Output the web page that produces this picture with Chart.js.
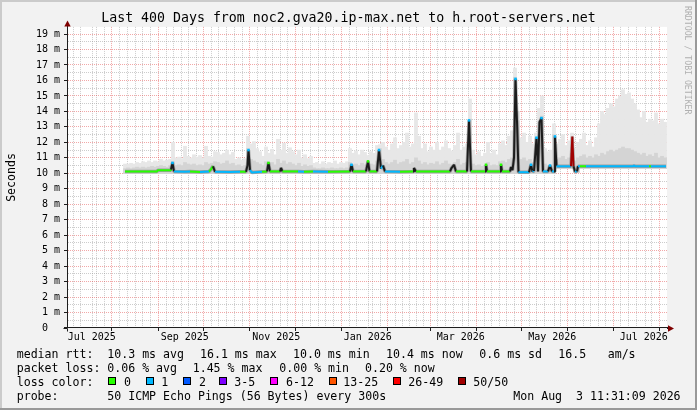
<!DOCTYPE html>
<html><head><meta charset="utf-8">
<script src="https://cdn.jsdelivr.net/npm/chart.js@4.4.1/dist/chart.umd.min.js"></script>
<style>html,body{margin:0;padding:0;background:#f2f2f2;overflow:hidden}canvas{display:block}</style>
</head><body>
<canvas id="c" width="697" height="410"></canvas>
<script>
// ---------------- data ----------------
const TITLE = 'Last 400 Days from noc2.gva20.ip-max.net to h.root-servers.net';
const WINDOW_START = Date.UTC(2025, 5, 29, 11, 31, 9);
const WINDOW_DAYS = 400;
const Y_MAX = 19.46;
const Y_UNIT = 'm';

const monthStarts = ['2025-07-01','2025-08-01','2025-09-01','2025-10-01','2025-11-01','2025-12-01',
  '2026-01-01','2026-02-01','2026-03-01','2026-04-01','2026-05-01','2026-06-01','2026-07-01','2026-08-01'];
const monthLabels = ['Jul 2025','Sep 2025','Nov 2025','Jan 2026','Mar 2026','May 2026','Jul 2026'];
const monthLabelDates = ['2025-07-16','2025-09-16','2025-11-16','2026-01-16','2026-03-19','2026-05-19','2026-07-19'];

// median rtt (ms) — day offset from window start, value, loss class
const medianDays = [38.67,48.67,60,60.67,68.67,69.33,70.33,71.33,78.67,82,88.67,94.67,96,97.33,98.67,108.67,115.33,119.33,120.33,121,122,123.33,130,133.33,134.33,135.33,142,142.67,143.67,154,158,164,174,188.67,189.67,190.67,199.33,200.67,201.67,206.67,208,209.33,210.67,212,222,230.67,231.33,232.67,255.33,256.33,258,259.33,266.67,268,269.33,278.67,279.33,280,288.67,289.33,290,295.33,296,297,298,299,300,301,308,309.33,310.33,311.33,313,314,315,316.33,317.33,320.67,322,323.33,324.67,325.33,326.33,336,336.87,337.67,338.67,340,340.67,342,345.33,346,377.33,378,378.67,388,389.33,399.33];
const medianValues = [10.12,10.12,10.12,10.2,10.2,10.25,10.67,10.12,10.1,10.12,10.08,10.12,10.25,10.45,10.1,10.08,10.1,10.1,10.5,11.5,10.2,10.05,10.1,10.12,10.67,10.12,10.12,10.34,10.12,10.12,10.1,10.12,10.1,10.12,10.55,10.12,10.12,10.77,10.12,10.12,11.5,10.3,10.5,10.12,10.1,10.12,10.34,10.12,10.12,10.34,10.55,10.12,10.12,13.42,10.12,10.12,10.55,10.12,10.12,10.55,10.12,10.12,10.4,10.2,11.0,16.1,13.35,10.07,10.07,10.55,10.1,10.15,12.3,10.12,13.3,13.57,10.12,10.12,10.5,10.12,10.12,12.38,10.45,10.45,12.38,10.45,10.12,10.12,10.45,10.45,10.45,10.45,10.45,10.5,10.45,10.45,10.45,10.45];
const medianLoss = [0,0,0,0,0,1,1,1,1,0,1,0,0,1,1,1,0,1,1,1,1,1,0,0,0,0,0,0,0,1,0,1,0,0,1,0,0,0,0,0,1,1,1,1,0,0,0,0,0,0,0,0,0,1,0,0,0,0,0,0,0,1,1,1,1,1,1,1,1,1,1,1,1,1,1,1,1,1,1,1,1,1,1,1,7,1,1,1,1,0,0,1,1,1,1,0,1,1];

// smoke (ping spread), one column every 2 days starting at day 38.67
const smokeFirstDay = 38.67;
const smokeStepDays = 2;
const smokeMax = [
10.6,10.6,10.65,10.6,10.7,10.65,10.75,10.7,10.8,10.7,
10.8,10.75,10.9,10.8,10.85,10.9,12.0,11.0,11.05,10.95,
11.75,11.1,11.0,11.2,11.05,11.15,11.0,11.75,11.1,11.05,
11.4,11.35,11.2,11.3,11.5,11.2,11.35,10.9,11.0,10.85,
10.95,12.4,11.9,12.05,11.6,11.4,11.1,11.7,11.3,11.55,
11.2,12.2,11.5,11.95,11.3,11.65,11.4,11.2,11.5,11.0,
11.2,10.95,11.1,10.65,10.7,10.6,10.75,10.6,10.7,10.65,
10.8,10.6,10.7,10.65,10.75,11.6,11.3,11.45,11.2,11.5,
11.35,11.15,11.4,11.3,11.8,11.85,12.0,11.7,11.5,11.9,
12.3,11.6,11.8,12.0,12.6,11.7,11.9,13.9,12.4,11.6,
11.9,11.4,11.7,11.5,12.0,11.5,11.7,12.1,11.6,11.45,
11.8,12.6,11.5,11.7,11.9,14.8,11.5,11.2,11.4,11.1,
11.3,12.0,11.3,11.5,11.2,11.9,12.1,11.8,12.4,12.75,
16.8,14.0,12.3,12.6,12.0,12.4,11.9,12.6,14.2,15.0,
11.6,11.4,11.5,13.2,11.9,12.2,12.5,11.8,12.1,12.6,
11.6,12.0,12.2,12.6,11.8,12.1,11.7,12.3,13.2,14.0,
13.8,14.2,14.5,14.3,14.8,15.0,15.4,15.1,15.2,14.8,
14.5,14.1,13.6,14.0,13.3,13.5,13.4,13.9,13.2,13.5,
13.3];
const smokeMid = [
10.3,10.35,10.3,10.35,10.4,10.35,10.4,10.35,10.4,10.45,
10.4,10.45,10.5,10.45,10.4,10.5,10.75,10.5,10.55,10.5,
10.7,10.6,10.55,10.6,10.5,10.55,10.5,10.7,10.6,10.65,
10.75,10.7,10.6,10.65,10.8,10.6,10.65,10.5,10.55,10.45,
10.5,11.6,10.9,10.8,10.7,10.6,10.5,10.75,10.6,10.7,
10.55,10.9,10.65,10.8,10.6,10.7,10.6,10.5,10.65,10.45,
10.55,10.45,10.5,10.35,10.3,10.3,10.35,10.3,10.3,10.35,
10.3,10.3,10.35,10.3,10.35,10.7,10.55,10.6,10.5,10.65,
10.55,10.5,10.6,10.55,10.8,11.6,10.9,10.7,10.6,10.7,
10.85,10.6,10.7,10.75,10.9,10.6,10.7,11.0,10.8,10.6,
10.7,10.55,10.65,10.6,10.75,10.55,10.65,10.8,10.6,10.55,
10.7,10.9,10.55,10.65,10.7,13.5,10.6,10.5,10.55,10.45,
10.5,10.7,10.5,10.55,10.5,10.75,10.8,10.7,10.9,11.0,
16.2,13.4,10.9,11.0,10.8,10.9,10.7,11.0,12.5,13.7,
10.6,10.5,10.55,12.5,10.9,11.0,11.1,10.9,11.0,11.3,
10.8,11.0,11.1,11.2,11.0,11.1,11.0,11.2,11.1,11.3,
11.2,11.4,11.5,11.4,11.5,11.6,11.7,11.6,11.6,11.5,
11.4,11.3,11.2,11.3,11.1,11.2,11.1,11.3,11.0,11.1,
11.0];
const smokeMin = [
9.98,9.98,9.98,9.98,9.98,9.98,9.98,9.98,9.98,9.98,
9.98,9.98,9.98,9.98,9.98,9.98,9.98,9.98,9.98,9.98,
9.98,9.98,9.98,9.98,9.98,9.98,9.98,9.98,9.98,9.98,
9.98,9.98,9.98,9.98,9.98,9.98,9.98,9.98,9.98,9.98,
9.98,9.98,9.98,9.98,9.98,9.98,9.98,9.98,9.98,9.98,
9.98,9.98,9.98,9.98,9.98,9.98,9.98,9.98,9.98,9.98,
9.98,9.98,9.98,9.98,9.98,9.98,9.98,9.98,9.98,9.98,
9.98,9.98,9.98,9.98,9.98,9.98,9.98,9.98,9.98,9.98,
9.98,9.98,9.98,9.98,9.98,9.98,9.98,9.98,9.98,9.98,
9.98,9.98,9.98,9.98,9.98,9.98,9.98,9.98,9.98,9.98,
9.98,9.98,9.98,9.98,9.98,9.98,9.98,9.98,9.98,9.98,
9.98,9.98,9.98,9.98,9.98,9.98,9.98,9.98,9.98,9.98,
9.98,9.98,9.98,9.98,9.98,9.98,9.98,9.98,9.98,9.98,
9.98,9.98,9.98,9.98,9.98,9.98,9.98,9.98,9.98,9.98,
9.98,9.98,9.98,9.98,10.3,10.3,10.3,10.3,10.3,10.3,
10.05,10.05,10.3,10.3,10.3,10.3,10.3,10.3,10.3,10.3,
10.3,10.3,10.3,10.3,10.3,10.3,10.3,10.3,10.3,10.3,
10.3,10.3,10.3,10.3,10.3,10.3,10.3,10.3,10.3,10.3,
10.3];

const lossLabels = ['0','1','2','3-5','6-12','13-25','26-49','50/50'];
const lossColors = ['#26ff00','#00b8ff','#0059ff','#7e00ff','#ff00ff','#ff5500','#ff0000','#a10000'];

const legendRows = [
  ['median rtt:','10.3 ms avg','16.1 ms max','10.0 ms min','10.4 ms now','0.6 ms sd','16.5','am/s'],
  ['packet loss:','0.06 % avg','1.45 % max','0.00 % min','0.20 % now'],
  ['loss color:'],
  ['probe:','50 ICMP Echo Pings (56 Bytes) every 300s','Mon Aug  3 11:31:09 2026']
];
const WATERMARK = 'RRDTOOL / TOBI OETIKER';

// ---------------- build ----------------
const MONO = "'DejaVu Sans Mono', monospace";
const DAY = 86400000;
const dayOf = s => (Date.parse(s + 'T00:00:00Z') - WINDOW_START) / DAY;
const AXIS = '#1e1e1e';
const GRID = 'rgba(143,143,143,0.46)';
const MGRID = 'rgba(222,48,48,0.42)';

const smokeDays = smokeMax.map((_, k) => smokeFirstDay + k * smokeStepDays);
const medianPts = medianDays.map((d, i) => ({x: d, y: medianValues[i]}));
const isTip = i => i > 0 && i < medianValues.length - 1 &&
  medianValues[i] - medianValues[i - 1] > 0.25 && medianValues[i] - medianValues[i + 1] > 0.25;

const xTicks = () => {
  const t = [];
  for (let m = 0; m < monthStarts.length; m++) {
    const d0 = dayOf(monthStarts[m]);
    t.push({value: d0, kind: 'major'});
    if (m + 1 < monthStarts.length) {
      const d1 = dayOf(monthStarts[m + 1]);
      for (let k = 1; k < 6; k++) t.push({value: d0 + (d1 - d0) * k / 6, kind: 'minor'});
    }
  }
  monthLabels.forEach((lab, i) => t.push({value: dayOf(monthLabelDates[i]), kind: 'label', text: lab}));
  return t.filter(k => k.value >= 0 && k.value <= WINDOW_DAYS).sort((a, b) => a.value - b.value);
};

const decor = {
  id: 'rrdDecor',
  beforeDraw(chart) {
    const {ctx, chartArea: a} = chart;
    ctx.save();
    ctx.fillStyle = '#f2f2f2';
    ctx.fillRect(0, 0, chart.width, chart.height);
    ctx.fillStyle = '#ffffff';
    ctx.fillRect(a.left, a.top, a.right - a.left, a.bottom - a.top);
    ctx.restore();
  },
  afterDraw(chart) {
    const {ctx, chartArea: a} = chart;
    const ax = Math.round(a.left) + 0.5, ay = Math.round(a.bottom) + 0.5;
    ctx.save();
    // axis extensions + arrows
    ctx.strokeStyle = AXIS; ctx.lineWidth = 1;
    ctx.beginPath();
    ctx.moveTo(ax, a.top); ctx.lineTo(ax, 25);
    ctx.moveTo(ax, ay); ctx.lineTo(ax, ay + 3);
    ctx.moveTo(ax - 4, ay); ctx.lineTo(ax, ay);
    ctx.moveTo(a.right, ay); ctx.lineTo(a.right + 2, ay);
    ctx.stroke();
    ctx.fillStyle = '#7f0000';
    ctx.beginPath(); ctx.moveTo(ax, 20.5); ctx.lineTo(ax - 3.2, 26.5); ctx.lineTo(ax + 3.2, 26.5); ctx.closePath(); ctx.fill();
    ctx.beginPath(); ctx.moveTo(a.right + 7, ay); ctx.lineTo(a.right + 1, ay - 3.2); ctx.lineTo(a.right + 1, ay + 3.2); ctx.closePath(); ctx.fill();

    // legend
    ctx.fillStyle = '#000';
    ctx.font = '11.58px ' + MONO;
    ctx.textAlign = 'left'; ctx.textBaseline = 'alphabetic';
    const rowY = [357.5, 371.7, 385.8, 400];
    const rowX = [
      [16.7, 107.3, 200, 293, 386, 479.3, 558.3, 607.7],
      [16.7, 107.3, 192.7, 279.3, 365],
      [16.7],
      [16.7, 107.3, 513.3]
    ];
    legendRows.forEach((row, r) => row.forEach((txt, i) => ctx.fillText(txt, rowX[r][i], rowY[r])));
    const boxX = [108.3, 145.7, 182.7, 219, 270, 329, 393.3, 458.3];
    const labX = [124, 161.3, 199, 234.3, 286, 343.3, 408.3, 473.3];
    lossLabels.forEach((lab, i) => {
      const bx = Math.round(boxX[i]);
      ctx.fillStyle = lossColors[i];
      ctx.fillRect(bx, 377, 8, 8);
      ctx.strokeStyle = '#000'; ctx.lineWidth = 1;
      ctx.strokeRect(bx + 0.5, 377.5, 7, 7);
      ctx.fillStyle = '#000';
      ctx.fillText(lab, labX[i], rowY[2]);
    });

    // watermark
    ctx.save();
    ctx.translate(686.7, 6);
    ctx.rotate(Math.PI / 2);
    ctx.font = '8.2px ' + MONO;
    ctx.fillStyle = '#b0b0b0';
    ctx.textBaseline = 'middle';
    ctx.fillText(WATERMARK, 0, 0);
    ctx.restore();

    // frame shading
    ctx.fillStyle = '#cbcbcb';
    ctx.fillRect(0, 0, chart.width, 2);
    ctx.fillRect(0, 0, 2, chart.height);
    ctx.fillStyle = '#999999';
    ctx.fillRect(0, chart.height - 2, chart.width, 2);
    ctx.fillRect(chart.width - 2, 0, 2, chart.height);
    ctx.restore();
  }
};

const barCommon = {type: 'bar', grouped: false, barThickness: 3.2, borderWidth: 0, inflateAmount: 0.3};

new Chart(document.getElementById('c'), {
  type: 'bar',
  data: {
    datasets: [
      Object.assign({}, barCommon, {
        label: 'smoke', order: 5, backgroundColor: '#e7e7e7',
        data: smokeDays.map((d, k) => ({x: d, y: [smokeMin[k], smokeMax[k]]}))
      }),
      Object.assign({}, barCommon, {
        label: 'dense smoke', order: 4, backgroundColor: '#d4d4d4',
        data: smokeDays.map((d, k) => ({x: d, y: [smokeMin[k], smokeMid[k]]}))
      }),
      {
        type: 'line', label: 'halo', order: 3, data: medianPts,
        borderColor: 'rgba(50,50,50,0.33)', borderWidth: 3.5, borderJoinStyle: 'bevel',
        pointRadius: 0, tension: 0, fill: false
      },
      {
        type: 'line', label: 'median rtt', order: 2, data: medianPts,
        borderWidth: 2, borderJoinStyle: 'bevel', tension: 0, fill: false,
        borderColor: lossColors[0],
        segment: {
          borderColor: c => {
            const i = c.p0DataIndex, j = c.p1DataIndex;
            if (Math.abs(medianValues[j] - medianValues[i]) > 0.2) {
              const tip = medianValues[j] > medianValues[i] ? j : i;
              const cls = medianLoss[tip];
              return cls >= 2 ? lossColors[cls] : '#1c1c1c';
            }
            return lossColors[medianLoss[i]];
          }
        },
        pointStyle: 'rect',
        pointRadius: c => isTip(c.dataIndex) && medianLoss[c.dataIndex] < 2 ? 1.8 : 0,
        pointBackgroundColor: c => lossColors[medianLoss[c.dataIndex]],
        pointBorderWidth: 0
      }
    ]
  },
  options: {
    responsive: false,
    animation: false,
    events: [],
    layout: {padding: {left: 0, right: 0, top: 0, bottom: 62}},
    plugins: {
      legend: {display: false},
      tooltip: {enabled: false},
      title: {
        display: true, text: TITLE, color: '#000',
        font: {family: MONO, size: 13.26, weight: 'normal', lineHeight: 1.2},
        padding: {top: 11, bottom: 0}
      }
    },
    scales: {
      x: {
        type: 'linear', min: 0, max: WINDOW_DAYS, offset: false, z: 1,
        afterBuildTicks: s => { s.ticks = xTicks(); },
        afterFit: s => { s.height = 20; },
        grid: {
          color: c => c.tick && c.tick.kind === 'major' ? MGRID : GRID,
          lineWidth: c => c.tick && c.tick.kind === 'label' ? 0 : 1,
          drawTicks: true, tickLength: 3, tickWidth: 1,
          tickColor: c => c.tick && c.tick.kind === 'major' ? AXIS : 'rgba(0,0,0,0)'
        },
        border: {display: true, color: AXIS, width: 1, dash: [1, 1]},
        ticks: {
          autoSkip: false, maxRotation: 0, minRotation: 0, padding: 0.5,
          font: {family: MONO, size: 10}, color: '#000',
          callback: (v, i, t) => (t[i] && t[i].text) ? t[i].text : ''
        }
      },
      y: {
        type: 'linear', min: 0, max: Y_MAX, z: 1,
        afterFit: s => { s.width = 67; },
        ticks: {
          stepSize: 0.5, includeBounds: false, autoSkip: false, maxTicksLimit: 100, padding: 4,
          font: {family: MONO, size: 10}, color: '#000',
          callback: v => Number.isInteger(v) ? (v === 0 ? '0  ' : v + ' ' + Y_UNIT) : ''
        },
        grid: {
          color: c => {
            const v = c.tick ? c.tick.value : 0;
            if (v === 0) return 'rgba(0,0,0,0)';
            return Number.isInteger(v) ? MGRID : GRID;
          },
          lineWidth: 1, drawTicks: true, tickLength: 3, tickWidth: 1,
          tickColor: c => c.tick && Number.isInteger(c.tick.value) ? AXIS : 'rgba(0,0,0,0)'
        },
        border: {display: true, color: AXIS, width: 1, dash: [1, 1]},
        title: {
          display: true, text: 'Seconds', color: '#000',
          font: {family: MONO, size: 11.58, weight: 'normal', lineHeight: 1.2},
          padding: {top: 5, bottom: 0}
        }
      },
      yRight: {
        type: 'linear', position: 'right', min: 0, max: Y_MAX, display: true,
        afterFit: s => { s.width = 30; },
        grid: {display: false, drawTicks: false},
        ticks: {display: false},
        border: {display: false}
      }
    }
  },
  plugins: [decor]
});
</script>
</body></html>
